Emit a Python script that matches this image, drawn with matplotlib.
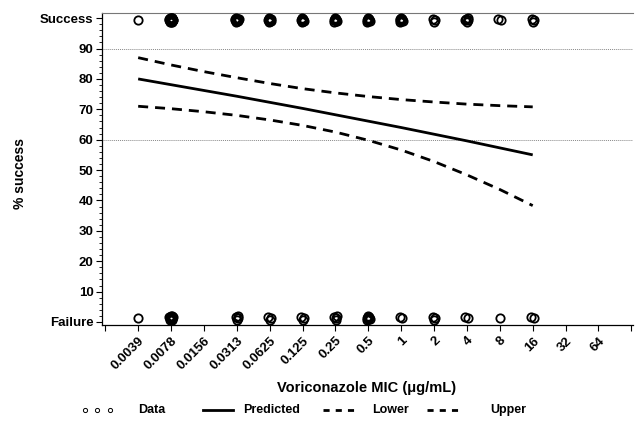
import numpy as np
import matplotlib
matplotlib.use("Agg")
import matplotlib.pyplot as plt
from matplotlib.lines import Line2D

plt.rcParams['font.family'] = ['Liberation Sans', 'DejaVu Sans']

# ---- data ----
mic_labels = ["0.0039", "0.0078", "0.0156", "0.0313", "0.0625", "0.125", "0.25",
              "0.5", "1", "2", "4", "8", "16", "32", "64"]
curve_mics = ["0.0039", "0.0078", "0.0156", "0.0313", "0.0625", "0.125", "0.25",
              "0.5", "1", "2", "4", "8", "16"]
predicted = [80.0, 78.1, 76.2, 74.3, 72.3, 70.3, 68.2, 66.1, 64.0, 61.8, 59.6, 57.3, 55.0]
lower     = [71.0, 70.2, 69.2, 68.0, 66.5, 64.7, 62.5, 59.8, 56.6, 52.8, 48.4, 43.6, 38.3]
upper     = [87.0, 84.6, 82.4, 80.4, 78.5, 76.8, 75.4, 74.2, 73.2, 72.4, 71.7, 71.2, 70.8]

data_mics      = ["0.0039", "0.0078", "0.0313", "0.0625", "0.125", "0.25", "0.5", "1", "2", "4", "8", "16"]
success_counts = [1, 25, 10, 8, 8, 8, 8, 8, 3, 5, 2, 3]
failure_counts = [1, 12, 4, 3, 3, 4, 8, 2, 3, 2, 1, 2]
success_level = 99.4
failure_level = 1.3
ref_lines = [90, 60]

ytick_vals = [0, 10, 20, 30, 40, 50, 60, 70, 80, 90, 100]
ytick_labels = ["Failure", "10", "20", "30", "40", "50", "60", "70", "80", "90", "Success"]

# ---- figure ----
fig = plt.figure(figsize=(6.35, 4.22), dpi=100)
ax = fig.add_axes([102/635, 1-325/422, 531/635, 312/422])

pos = {m: i for i, m in enumerate(mic_labels)}
cx = [pos[m] for m in curve_mics]

for r in ref_lines:
    ax.axhline(r, color='#888888', lw=0.7, ls=(0, (1, 1)), zorder=1)

ax.plot(cx, predicted, color='black', lw=2.0, solid_capstyle='butt', zorder=3)
ax.plot(cx, lower, color='black', lw=2.0, dashes=(3.6, 2.5), zorder=3)
ax.plot(cx, upper, color='black', lw=2.0, dashes=(3.6, 2.5), zorder=3)

def cluster(xc, yc, n):
    k = np.arange(n)
    ang = k * 2.39996
    rr = np.sqrt((k + 0.5) / max(n, 1)) if n > 1 else np.zeros(1)
    return xc + 0.07 * rr * np.cos(ang), yc + 0.8 * rr * np.sin(ang)

for m, ns, nf in zip(data_mics, success_counts, failure_counts):
    for lev, n in ((success_level, ns), (failure_level, nf)):
        if n <= 0:
            continue
        xs, ys = cluster(pos[m], lev, n)
        ax.plot(xs, ys, ls='none', marker='o', ms=6.0, mfc='none', mec='black',
                mew=1.3, zorder=4, clip_on=False)

ax.set_xlim(-1.1, 15.05)
ax.set_ylim(-1.0, 101.7)
ax.set_xticks(list(range(-1, 16)))
ax.set_xticklabels([""] + mic_labels + [""], rotation=45, ha='right',
                   rotation_mode='anchor', fontsize=9.5, fontweight='bold')
ax.set_yticks(ytick_vals)
ax.set_yticklabels(ytick_labels, fontsize=9.5, fontweight='bold')
ax.set_yticks(np.arange(0, 101, 2), minor=True)
ax.tick_params(axis='y', which='major', length=4, width=0.8, pad=2)
ax.tick_params(axis='y', which='minor', length=2, width=0.6)
ax.tick_params(axis='x', which='major', length=4, width=0.8, pad=3)

ax.spines['right'].set_visible(False)
ax.spines['top'].set_color('#777777')
ax.spines['top'].set_linewidth(0.8)
ax.spines['left'].set_linewidth(0.9)
ax.spines['bottom'].set_linewidth(0.9)

fig.text(367/635, 1-388/422, "Voriconazole MIC (\u03bcg/mL)", ha='center', va='center',
         fontsize=10.5, fontweight='bold')
fig.text(20/635, 1-174/422, "% success", ha='center', va='center', rotation=90,
         fontsize=10, fontweight='bold')

# ---- legend (manual) ----
ly = 1 - 410/422
fig.add_artist(Line2D([85/635, 97/635, 110/635], [ly, ly, ly], ls='none', marker='o',
                      ms=3, mfc='none', mec='black', mew=0.7, transform=fig.transFigure))
fig.text(138/635, ly, "Data", ha='left', va='center', fontsize=9, fontweight='bold')
fig.add_artist(Line2D([203/635, 233/635], [ly, ly], color='black', lw=2, transform=fig.transFigure))
fig.text(243/635, ly, "Predicted", ha='left', va='center', fontsize=9, fontweight='bold')
fig.add_artist(Line2D([323/635, 354/635], [ly, ly], color='black', lw=2, dashes=(2.2, 2.2),
                      transform=fig.transFigure))
fig.text(372/635, ly, "Lower", ha='left', va='center', fontsize=9, fontweight='bold')
fig.add_artist(Line2D([427/635, 458/635], [ly, ly], color='black', lw=2, dashes=(2.2, 2.2),
                      transform=fig.transFigure))
fig.text(490/635, ly, "Upper", ha='left', va='center', fontsize=9, fontweight='bold')

fig.savefig("out.png", dpi=100)
